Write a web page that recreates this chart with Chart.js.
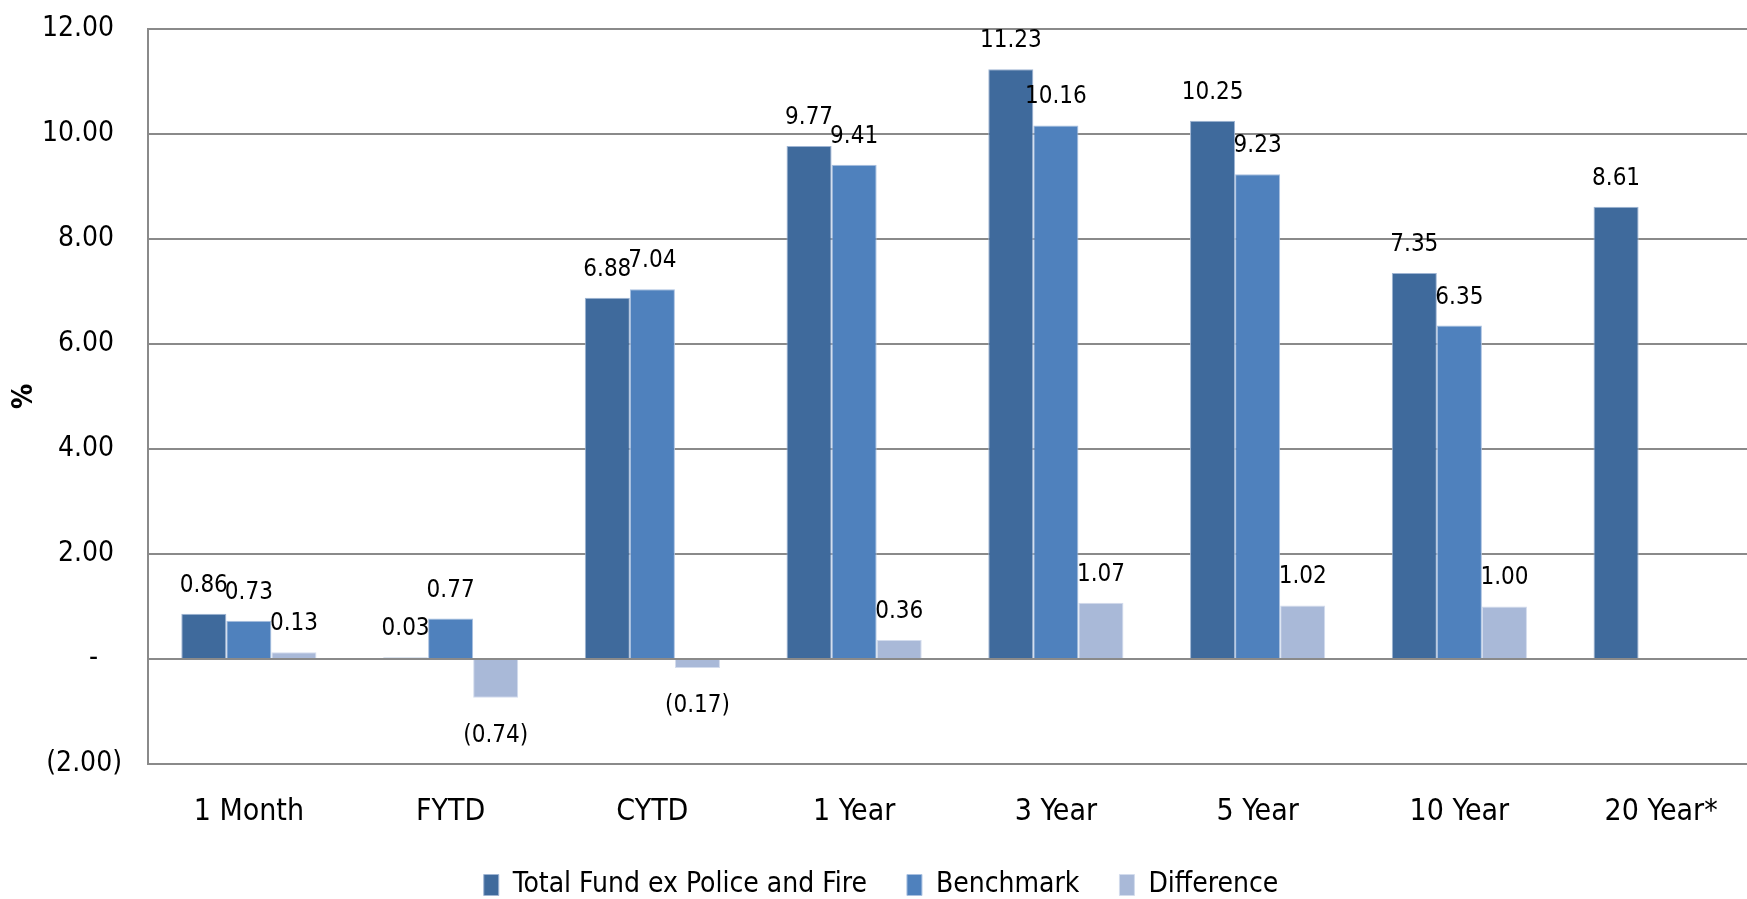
<!DOCTYPE html>
<html>
<head>
<meta charset="utf-8">
<script src="https://cdn.jsdelivr.net/npm/chart.js@4.4.1/dist/chart.umd.min.js"></script>
<style>
  html, body { margin: 0; padding: 0; background: #fff; overflow: hidden; }
  #wrap { position: relative; width: 1762px; height: 923px; margin-top: -14px; }
</style>
</head>
<body>
<div id="wrap"><canvas id="grafico"></canvas></div>
<script>
const categorias = ["1 Month", "FYTD", "CYTD", "1 Year", "3 Year", "5 Year", "10 Year", "20 Year*"];
const totalFund = [0.86, 0.03, 6.88, 9.77, 11.23, 10.25, 7.35, 8.61];
const benchmark = [0.73, 0.77, 7.04, 9.41, 10.16, 9.23, 6.35, null];
const diferenca = [0.13, -0.74, -0.17, 0.36, 1.07, 1.02, 1.00, null];

const fonte = "'Liberation Sans Narrow', 'Arial Narrow', 'DejaVu Sans Condensed', sans-serif";
const corGrade = "#8a8a8a";

function formatar(valor) {
  if (valor < 0) return "(" + Math.abs(valor).toFixed(2) + ")";
  return valor.toFixed(2);
}

function formatarEixo(valor) {
  if (valor === 0) return "-   ";
  if (valor < 0) return "(" + Math.abs(valor).toFixed(2) + ")";
  return valor.toFixed(2) + " ";
}

const rotulosPlugin = {
  id: "rotulos",
  afterDatasetsDraw(chart) {
    const ctx = chart.ctx;
    ctx.save();
    ctx.font = "24px " + fonte;
    ctx.fillStyle = "#000";
    ctx.textAlign = "center";
    chart.data.datasets.forEach((ds, i) => {
      const meta = chart.getDatasetMeta(i);
      meta.data.forEach((barra, j) => {
        const v = ds.data[j];
        if (v === null || v === undefined) return;
        if (v >= 0) {
          ctx.textBaseline = "alphabetic";
          ctx.fillText(formatar(v), barra.x, barra.y - 22);
        } else {
          ctx.textBaseline = "middle";
          ctx.fillText(formatar(v), barra.x, barra.y + 38);
        }
      });
    });
    ctx.restore();
  }
};

new Chart(document.getElementById("grafico"), {
  type: "bar",
  data: {
    labels: categorias,
    datasets: [
      {
        label: "Total Fund ex Police and Fire",
        data: totalFund,
        backgroundColor: "#3f6a9c",
        borderColor: "#9fb5d3",
        borderWidth: 1
      },
      {
        label: "Benchmark",
        data: benchmark,
        backgroundColor: "#4f81bd",
        borderColor: "#a9c0e0",
        borderWidth: 1
      },
      {
        label: "Difference",
        data: diferenca,
        backgroundColor: "#a9b9d8",
        borderColor: "#d3dced",
        borderWidth: 1
      }
    ]
  },
  options: {
    responsive: true,
    maintainAspectRatio: false,
    animation: false,
    categoryPercentage: 0.67,
    barPercentage: 1.0,
    layout: { padding: { top: 10, right: 0, left: 0, bottom: 0 } },
    plugins: {
      legend: {
        position: "bottom",
        labels: {
          font: { family: fonte, size: 28 },
          color: "#000",
          boxWidth: 15,
          boxHeight: 21,
          padding: 40
        }
      },
      tooltip: { enabled: false }
    },
    scales: {
      x: {
        grid: { display: false, drawTicks: false },
        border: { display: false },
        ticks: {
          font: { family: fonte, size: 30 },
          color: "#000",
          padding: 30,
          maxRotation: 0,
          autoSkip: false
        },
        afterFit: function (scale) {
          scale.height = 67;
        }
      },
      y: {
        min: -2,
        max: 12,
        ticks: {
          stepSize: 2,
          font: { family: fonte, size: 28 },
          color: "#000",
          padding: 26,
          callback: function (valor) {
            return formatarEixo(valor);
          }
        },
        grid: { color: corGrade, lineWidth: 2, drawTicks: false },
        border: { display: true, color: corGrade, width: 2 },
        title: {
          display: true,
          text: "%",
          font: { family: fonte, size: 28, weight: "bold" },
          color: "#000",
          padding: { top: 8, bottom: 0 }
        },
        afterFit: function (scale) {
          scale.width = 148;
        }
      }
    }
  },
  plugins: [rotulosPlugin]
});
</script>
</body>
</html>
